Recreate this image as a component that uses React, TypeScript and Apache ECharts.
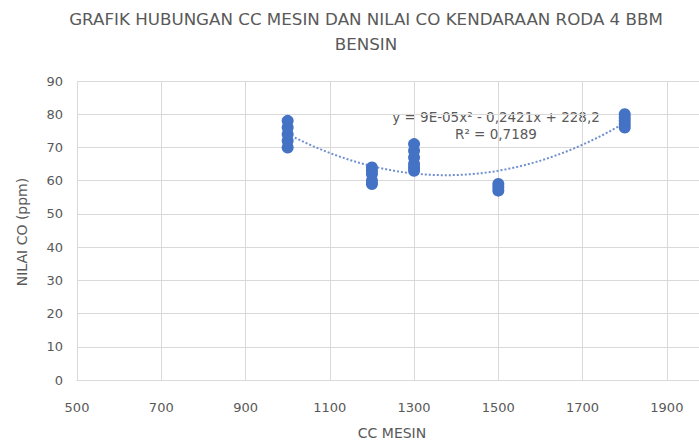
import React, { useEffect, useRef } from "react";
import * as echarts from "echarts";

const ccGroups = [1000, 1200, 1300, 1500, 1800];
const co1000 = [70, 72, 74, 76, 78];
const co1200 = [59, 60, 62, 63, 64];
const co1300 = [63, 64, 65, 67, 69, 71];
const co1500 = [57, 58, 59];
const co1800 = [76, 77, 78, 79, 80];
const coByGroup = [co1000, co1200, co1300, co1500, co1800];
const xTicks = [500, 700, 900, 1100, 1300, 1500, 1700, 1900];

const points: [number, number][] = [];
ccGroups.forEach((cc, i) => coByGroup[i].forEach((v) => points.push([cc, v])));

// least-squares quadratic fit (Excel polynomial trendline, order 2)
function fitQuad(pts: [number, number][]) {
  const s = 1000;
  const S = [0, 0, 0, 0, 0];
  const T = [0, 0, 0];
  pts.forEach(([x0, y]) => {
    const x = x0 / s;
    for (let k = 0; k < 5; k++) S[k] += Math.pow(x, k);
    for (let k = 0; k < 3; k++) T[k] += y * Math.pow(x, k);
  });
  const A = [
    [S[0], S[1], S[2], T[0]],
    [S[1], S[2], S[3], T[1]],
    [S[2], S[3], S[4], T[2]],
  ];
  for (let i = 0; i < 3; i++) {
    for (let j = i + 1; j < 3; j++) {
      const f = A[j][i] / A[i][i];
      for (let k = i; k < 4; k++) A[j][k] -= f * A[i][k];
    }
  }
  const c = [0, 0, 0];
  for (let i = 2; i >= 0; i--) {
    let v = A[i][3];
    for (let k = i + 1; k < 3; k++) v -= A[i][k] * c[k];
    c[i] = v / A[i][i];
  }
  return (x0: number) => c[0] + c[1] * (x0 / s) + c[2] * (x0 / s) * (x0 / s);
}

const trend = fitQuad(points);
const trendData: [number, number][] = [];
for (let x = ccGroups[0]; x <= ccGroups[ccGroups.length - 1]; x += 10) trendData.push([x, trend(x)]);

const gray = "#595959";
const font = "'DejaVu Sans', sans-serif";

export default function App() {
  const ref = useRef<HTMLDivElement>(null);
  useEffect(() => {
    const chart = echarts.init(ref.current!, undefined, { renderer: "svg" });
    chart.setOption({
      animation: false,
      backgroundColor: "#ffffff",
      textStyle: { fontFamily: font },
      grid: { left: 77, right: 31, top: 81, bottom: 63 },
      xAxis: {
        type: "value",
        min: 500,
        max: 2000,
        interval: 200,
        axisLine: { show: true, lineStyle: { color: "#D9D9D9" } },
        axisTick: { show: false },
        splitLine: { show: true, lineStyle: { color: "#D9D9D9" } },
        axisLabel: {
          color: gray,
          fontSize: 13,
          margin: 21,
          fontFamily: font,
          formatter: (v: number) => (xTicks.includes(v) ? String(v) : ""),
        },
      },
      yAxis: {
        type: "value",
        min: 0,
        max: 90,
        interval: 10,
        axisLine: { show: false },
        axisTick: { show: false },
        splitLine: { show: true, lineStyle: { color: "#D9D9D9" } },
        axisLabel: { color: gray, fontSize: 13, margin: 14, fontFamily: font },
      },
      graphic: [
        {
          type: "text",
          x: 366,
          y: 31,
          style: {
            text: "GRAFIK HUBUNGAN CC MESIN DAN NILAI CO KENDARAAN RODA 4 BBM\nBENSIN",
            align: "center",
            verticalAlign: "middle",
            fill: gray,
            fontSize: 16.7,
            lineHeight: 25,
            fontFamily: font,
          },
        },
        {
          type: "text",
          x: 392,
          y: 433,
          style: {
            text: "CC MESIN",
            fill: gray,
            fontSize: 14,
            fontFamily: font,
            align: "center",
            verticalAlign: "middle",
          },
        },
        {
          type: "text",
          x: 22,
          y: 232,
          rotation: Math.PI / 2,
          style: {
            text: "NILAI CO (ppm)",
            fill: gray,
            fontSize: 14,
            fontFamily: font,
            align: "center",
            verticalAlign: "middle",
          },
        },
        {
          type: "text",
          x: 496,
          y: 125,
          style: {
            text: "y = 9E-05x² - 0,2421x + 228,2\nR² = 0,7189",
            fill: gray,
            fontSize: 13.5,
            lineHeight: 17,
            fontFamily: font,
            align: "center",
            verticalAlign: "middle",
          },
        },
      ],
      series: [
        {
          type: "line",
          data: trendData,
          showSymbol: false,
          symbol: "none",
          smooth: false,
          lineStyle: { color: "#6E8FD0", width: 2, type: "dotted" },
          z: 1,
        },
        {
          type: "scatter",
          data: points,
          symbol: "circle",
          symbolSize: 12,
          itemStyle: { color: "#4472C4", opacity: 1 },
          z: 2,
        },
      ],
    });
    return () => chart.dispose();
  }, []);
  return (
    <div style={{ position: "fixed", left: 0, top: 0, width: 699, height: 443, overflow: "hidden", background: "#fff" }}>
      <div ref={ref} style={{ width: 740, height: 443 }} />
    </div>
  );
}
